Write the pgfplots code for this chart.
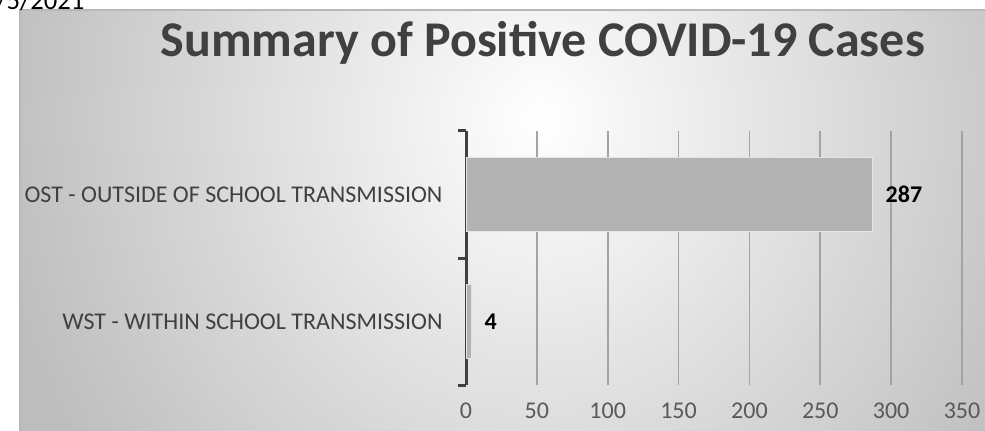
\documentclass[border=0pt]{standalone}
\usepackage{pgfplots}
\pgfplotsset{compat=1.18}
\usepackage{fontspec}
\setmainfont{Carlito}
\definecolor{axisdark}{HTML}{404040}
\definecolor{ticktext}{HTML}{595959}
\definecolor{gridc}{HTML}{A3A3A3}
\definecolor{barc}{HTML}{B2B2B2}
\definecolor{barborder}{HTML}{E4E4E4}
\definecolor{bgout}{HTML}{BDBDBD}
\definecolor{frame}{HTML}{B8B8B8}
\begin{document}
\begin{tikzpicture}
\begin{scope}[x=0.75pt,y=-0.75pt]
\useasboundingbox (0,0) rectangle (985,431);
\begin{scope}
\clip (20,10) rectangle (995,445);
\fill[bgout] (20,10) rectangle (995,445);
\shade[inner color=white, outer color=bgout] (-20,-480) rectangle (1100,720);
\end{scope}
\draw[frame, line width=1.5pt] (20,10) rectangle (995,445);
\node[anchor=base west, inner sep=0pt, font=\fontsize{20}{24}\selectfont] at (-4,10) {/5/2021};
\node[anchor=base, inner sep=0pt, text=axisdark, font=\fontsize{37.5}{42}\selectfont\bfseries] at (543,57) {Summary of Positive COVID-19 Cases};
\end{scope}
\begin{axis}[
  at={(349.5pt,-288.75pt)}, anchor=south west,
  scale only axis, width=372pt, height=190.5pt,
  xbar, xmin=0, xmax=350, ymin=-0.5, ymax=1.5,
  bar width=0.59,
  /pgf/number format/assume math mode=true,
  xtick={0,50,...,350},
  ytick={0,1},
  yticklabels={WST - WITHIN SCHOOL TRANSMISSION, OST - OUTSIDE OF SCHOOL TRANSMISSION},
  extra y ticks={-0.5,0.5,1.5},
  extra y tick labels={},
  extra y tick style={major tick length=6pt, tick align=outside, tick pos=left,
    major tick style={draw=axisdark, line width=2.25pt}},
  axis lines*=left,
  x axis line style={draw=none},
  y axis line style={draw=axisdark, line width=2.25pt},
  xmajorgrids,
  major grid style={draw=gridc, line width=1.2pt},
  major tick length=0pt,
  tick label style={font=\fontsize{18}{21}\selectfont, text=ticktext},
  yticklabel style={text=axisdark, xshift=-14pt},
  xticklabel style={yshift=-10pt},
  nodes near coords,
  nodes near coords style={font=\fontsize{18}{21}\selectfont\bfseries, text=black, anchor=west, xshift=6pt},
  clip=false,
]
\addplot[fill=barc, draw=barborder, line width=0.75pt] coordinates {(4,0) (287,1)};
\end{axis}
\end{tikzpicture}
\end{document}
